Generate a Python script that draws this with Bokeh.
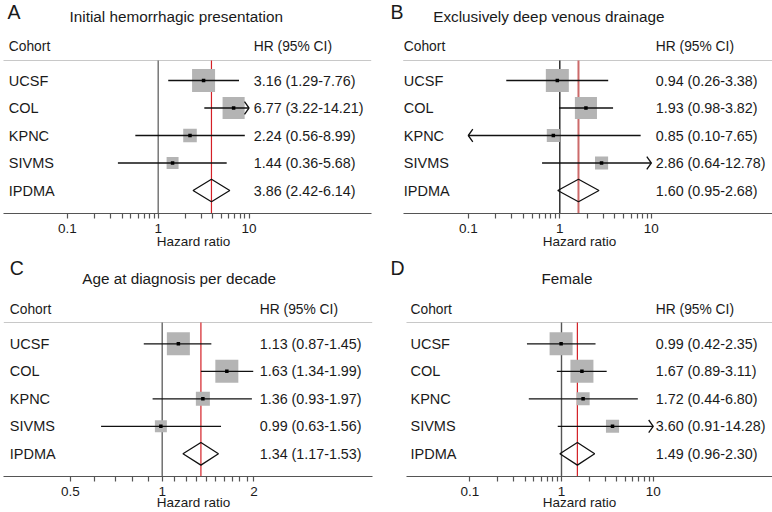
from bokeh.plotting import figure
from bokeh.models import Range1d, FixedTicker, CustomJSTickFormatter, LogAxis
from bokeh.layouts import column, row
from bokeh.embed import file_html
from bokeh.resources import INLINE
from bokeh.core.properties import value

# ---------------- data ----------------
cohorts = ["UCSF", "COL", "KPNC", "SIVMS"]
pooled_name = "IPDMA"

a_letter, a_title = "A", "Initial hemorrhagic presentation"
a_hr = [3.16, 6.77, 2.24, 1.44]
a_lo = [1.29, 3.22, 0.56, 0.36]
a_hi = [7.76, 14.21, 8.99, 5.68]
a_weight = [1.0, 0.96, 0.59, 0.52]
a_pooled = [3.86, 2.42, 6.14]
a_ticks = [0.1, 1, 10]
a_tick_labels = ["0.1", "1", "10"]
a_minor = [0.2, 0.3, 0.4, 0.5, 0.6, 0.7, 0.8, 0.9, 2, 3, 4, 5, 6, 7, 8, 9]

b_letter, b_title = "B", "Exclusively deep venous drainage"
b_hr = [0.94, 1.93, 0.85, 2.86]
b_lo = [0.26, 0.98, 0.10, 0.64]
b_hi = [3.38, 3.82, 7.65, 12.78]
b_weight = [1.0, 0.96, 0.57, 0.57]
b_pooled = [1.60, 0.95, 2.68]
b_ticks = [0.1, 1, 10]
b_tick_labels = ["0.1", "1", "10"]
b_minor = [0.2, 0.3, 0.4, 0.5, 0.6, 0.7, 0.8, 0.9, 2, 3, 4, 5, 6, 7, 8, 9]

c_letter, c_title = "C", "Age at diagnosis per decade"
c_hr = [1.13, 1.63, 1.36, 0.99]
c_lo = [0.87, 1.34, 0.93, 0.63]
c_hi = [1.45, 1.99, 1.97, 1.56]
c_weight = [1.0, 1.0, 0.61, 0.52]
c_pooled = [1.34, 1.17, 1.53]
c_ticks = [0.5, 1, 2]
c_tick_labels = ["0.5", "1", "2"]
c_minor = [0.6, 0.7, 0.8, 0.9, 1.1, 1.2, 1.3, 1.4, 1.5, 1.6, 1.7, 1.8, 1.9]

d_letter, d_title = "D", "Female"
d_hr = [0.99, 1.67, 1.72, 3.60]
d_lo = [0.42, 0.89, 0.44, 0.91]
d_hi = [2.35, 3.11, 6.80, 14.28]
d_weight = [1.0, 1.0, 0.57, 0.57]
d_pooled = [1.49, 0.96, 2.30]
d_ticks = [0.1, 1, 10]
d_tick_labels = ["0.1", "1", "10"]
d_minor = [0.2, 0.3, 0.4, 0.5, 0.6, 0.7, 0.8, 0.9, 2, 3, 4, 5, 6, 7, 8, 9]

# ---------------- layout / style ----------------
FONT = "Liberation Sans"
TXT = "#1a1a1a"
FIG_W = 386
TOP_ROW = dict(fig_h=256, row0=80, spacing=27.5, axis=213, line=60, header=45.7, title=15.7,
               letter=11.5, lab_standoff=-2)
BOT_ROW = dict(fig_h=256, row0=87.3, spacing=27.5, axis=220, line=66, header=53.3, title=21.7,
               letter=11.5, lab_standoff=-4)
SQ_MAX = 23


def make_panel(letter, title, hr, lo, hi, weight, pooled, ticks, tick_labels, minor,
               R, one_px, decade_px, bounds_px, letter_off, title_off, cohort_off, hr_off,
               red_color, red_width, ref_color):
    W, H = FIG_W, R["fig_h"]
    x0 = 10 ** (-one_px / decade_px)
    x1 = 10 ** ((W - one_px) / decade_px)

    def xpx(px):
        return 10 ** ((px - one_px) / decade_px)

    def yrow(px):
        return (px - R["row0"]) / R["spacing"]

    y_top = yrow(0)
    y_bot = yrow(R["axis"])
    y_line = yrow(R["line"])

    p = figure(width=W, height=H, x_axis_type="log",
               x_range=Range1d(x0, x1), y_range=Range1d(y_bot, y_top),
               output_backend="svg", toolbar_location=None, y_axis_location=None,
               min_border_left=0, min_border_right=0, min_border_top=0,
               min_border_bottom=H - R["axis"], outline_line_color=None,
               background_fill_color="white", border_fill_color="white")
    p.grid.visible = False

    ax = p.xaxis[0]
    ax.ticker = FixedTicker(ticks=ticks, minor_ticks=minor)
    ax.formatter = CustomJSTickFormatter(code="return String(tick)")
    ax.major_label_overrides = {t: l for t, l in zip(ticks, tick_labels)}
    ax.bounds = (xpx(bounds_px[0]), xpx(bounds_px[1]))
    ax.axis_line_color = "#555555"
    ax.axis_line_width = 1.2
    ax.major_tick_line_color = "#555555"
    ax.minor_tick_line_color = "#555555"
    ax.major_tick_line_width = 1.2
    ax.minor_tick_line_width = 1.2
    ax.major_tick_out = 5
    ax.major_tick_in = 0
    ax.minor_tick_out = 5
    ax.minor_tick_in = 0
    ax.major_label_text_font = FONT
    ax.major_label_text_font_size = "13.5px"
    ax.major_label_text_color = TXT
    ax.major_label_standoff = 5

    # second (label-only) axis so that "Hazard ratio" is centred on HR = 1
    lab = LogAxis(ticker=FixedTicker(ticks=[]), bounds=(1 / 100, 100),
                  axis_line_color=None, major_tick_out=0, major_tick_in=0,
                  minor_tick_out=0, minor_tick_in=0, major_label_standoff=0,
                  axis_label="Hazard ratio", axis_label_text_font=FONT,
                  axis_label_text_font_style="normal", axis_label_text_font_size="13.5px",
                  axis_label_text_color=TXT, axis_label_standoff=R["lab_standoff"])
    p.add_layout(lab, "below")

    # header separator line
    p.segment(x0=[xpx(bounds_px[0])], x1=[xpx(bounds_px[1])], y0=[y_line], y1=[y_line],
              line_color="#c8c8c8", line_width=1.2)
    # reference line at 1 and pooled estimate line
    p.segment(x0=[1], x1=[1], y0=[y_line], y1=[y_bot], line_color=ref_color, line_width=1.4)
    p.segment(x0=[pooled[0]], x1=[pooled[0]], y0=[y_line], y1=[y_bot],
              line_color=red_color, line_width=red_width)

    ys = list(range(len(cohorts)))
    clip_lo, clip_hi = ticks[0], ticks[-1]
    # weight squares
    p.scatter(x=hr, y=ys, marker="square", size=[w * SQ_MAX for w in weight],
              fill_color="#b4b4b4", line_color=None)
    # confidence intervals (clipped to axis)
    cl = [max(v, clip_lo) for v in lo]
    ch = [min(v, clip_hi) for v in hi]
    p.segment(x0=cl, x1=ch, y0=ys, y1=ys, line_color="#111111", line_width=1.3)
    # arrow heads where clipped
    dx = 4.5 / decade_px
    dy = 6.3 / R["spacing"]
    axs, ays = [], []
    for i in range(len(cohorts)):
        if hi[i] > clip_hi:
            axs.append([clip_hi * 10 ** (-dx), clip_hi, clip_hi * 10 ** (-dx)])
            ays.append([ys[i] - dy, ys[i], ys[i] + dy])
        if lo[i] <= clip_lo:
            axs.append([clip_lo * 10 ** dx, clip_lo, clip_lo * 10 ** dx])
            ays.append([ys[i] - dy, ys[i], ys[i] + dy])
    if axs:
        p.multi_line(xs=axs, ys=ays, line_color="#111111", line_width=1.3)
    p.scatter(x=hr, y=ys, marker="square", size=3.5, fill_color="#000000", line_color=None)

    # pooled diamond
    yp = len(cohorts)
    h = 11.3 / R["spacing"]
    p.patch(x=[pooled[1], pooled[0], pooled[2], pooled[0]], y=[yp, yp - h, yp, yp + h],
            fill_alpha=0, line_color="#111111", line_width=1.3)

    # texts
    labels = cohorts + [pooled_name]
    hr_txt = [f"{a:.2f} ({b:.2f}-{c:.2f})" for a, b, c in zip(hr, lo, hi)]
    hr_txt.append(f"{pooled[0]:.2f} ({pooled[1]:.2f}-{pooled[2]:.2f})")
    ally = ys + [yp]
    common = dict(text_font=value(FONT), text_baseline="middle", text_color=TXT)
    p.text(x=[x0] * len(labels), y=ally, text=labels, x_offset=cohort_off,
           text_font_size="14.5px", **common)
    p.text(x=[x0] * len(labels), y=ally, text=hr_txt, x_offset=hr_off,
           text_font_size="14.3px", **common)
    p.text(x=[x0, x0], y=[yrow(R["header"])] * 2, text=["Cohort", "HR (95% CI)"],
           x_offset=[cohort_off, hr_off], text_font_size="13.8px", **common)
    p.text(x=[x0], y=[yrow(R["title"])], text=[title], x_offset=title_off,
           text_font_size="15.3px", **common)
    p.text(x=[x0], y=[yrow(R["letter"])], text=[letter], x_offset=letter_off,
           text_font_size="19.5px", **common)
    return p


pA = make_panel(a_letter, a_title, a_hr, a_lo, a_hi, a_weight, a_pooled, a_ticks, a_tick_labels, a_minor,
                TOP_ROW, 157.7, 90.8, (3, 370.7), 7, 69, 8.3, 253.3, "#d42026", 1.2, "#6e6e6e")
pB = make_panel(b_letter, b_title, b_hr, b_lo, b_hi, b_weight, b_pooled, b_ticks, b_tick_labels, b_minor,
                TOP_ROW, 173.3, 91.5, (16.7, 386), 4, 46.7, 17.3, 269.3, "#cc6a6a", 2.0, "#222222")
pC = make_panel(c_letter, c_title, c_hr, c_lo, c_hi, c_weight, c_pooled, c_ticks, c_tick_labels, c_minor,
                BOT_ROW, 161.7, 304.6, (3.3, 371.7), 9.3, 81.7, 9.3, 259.3, "#d42026", 1.2, "#666666")
pD = make_panel(d_letter, d_title, d_hr, d_lo, d_hi, d_weight, d_pooled, d_ticks, d_tick_labels, d_minor,
                BOT_ROW, 175.0, 91.7, (20, 386), 4, 155, 24, 269.3, "#d42026", 1.2, "#555555")

layout = column(row(pA, pB, spacing=0), row(pC, pD, spacing=0), spacing=0)
open("out.html", "w").write(file_html(layout, INLINE))
